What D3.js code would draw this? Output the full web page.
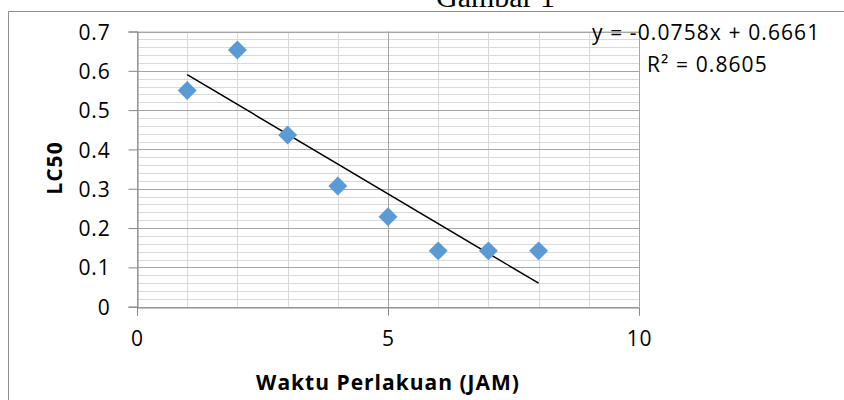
<!DOCTYPE html>
<html>
<head>
<meta charset="utf-8">
<script src="https://cdn.jsdelivr.net/npm/d3@7"></script>
<style>
  body { margin: 0; background: #fff; }
  svg text { font-family: "Open Sans", "Noto Sans", sans-serif; fill: #000; }
</style>
</head>
<body>
<div id="chart"></div>
<script>
// data
const hours = [1, 2, 3, 4, 5, 6, 7, 8];
const lc50 = [0.55, 0.653, 0.437, 0.307, 0.229, 0.142, 0.142, 0.142];
const trend = { slope: -0.0758, intercept: 0.6661 };
const xTicks = [0, 5, 10];
const yTicks = [0, 0.1, 0.2, 0.3, 0.4, 0.5, 0.6, 0.7];
const eqLabel = 'y = -0.0758x + 0.6661';
const r2Label = 'R² = 0.8605';

const width = 844, height = 400;

const svg = d3.select('#chart').append('svg')
  .attr('width', width)
  .attr('height', height);

// chart frame (only top & left visible)
svg.append('path')
  .attr('d', 'M8.5,' + height + 'V11.5H' + width)
  .attr('fill', 'none')
  .attr('stroke', '#8c8c8c')
  .attr('stroke-width', 1);

svg.append('text')
  .attr('x', 436)
  .attr('y', 7)
  .style('font-family', '"Liberation Serif", "Times New Roman", serif')
  .style('font-size', '30px')
  .text('Gambar 1');

let x = d3.scaleLinear().domain([0, 10]).range([137, 639]);
let y = d3.scaleLinear().domain([0, 0.7]).range([306.7, 31.5]);

const grid = svg.append('g');

// minor grid
grid.selectAll('.hminor')
  .data(d3.range(0, 0.701, 0.02))
  .enter().append('line')
  .attr('x1', x(0)).attr('x2', x(10))
  .attr('y1', d => Math.round(y(d)) + 0.5).attr('y2', d => Math.round(y(d)) + 0.5)
  .attr('stroke', '#d9d9d9').attr('stroke-width', 1);

grid.selectAll('.vminor')
  .data(d3.range(0, 10.01, 1))
  .enter().append('line')
  .attr('y1', y(0)).attr('y2', y(0.7))
  .attr('x1', d => Math.round(x(d)) + 0.5).attr('x2', d => Math.round(x(d)) + 0.5)
  .attr('stroke', '#d9d9d9').attr('stroke-width', 1);

// major grid
grid.selectAll('.hmajor')
  .data(yTicks)
  .enter().append('line')
  .attr('x1', x(0)).attr('x2', x(10))
  .attr('y1', d => Math.round(y(d)) + 0.5).attr('y2', d => Math.round(y(d)) + 0.5)
  .attr('stroke', '#a6a6a6').attr('stroke-width', 1);

grid.selectAll('.vmajor')
  .data(xTicks)
  .enter().append('line')
  .attr('y1', y(0)).attr('y2', y(0.7))
  .attr('x1', d => Math.round(x(d)) + 0.5).attr('x2', d => Math.round(x(d)) + 0.5)
  .attr('stroke', '#a6a6a6').attr('stroke-width', 1);

// axes
const yAxis = svg.append('g')
  .attr('transform', 'translate(' + (Math.round(x(0)) + 0.5) + ',0)')
  .call(d3.axisLeft(y).tickValues(yTicks).tickSize(9).tickPadding(18).tickFormat(d => d === 0 ? '0' : d3.format('.1f')(d)));

const xAxis = svg.append('g')
  .attr('transform', 'translate(0,' + (Math.round(y(0)) + 0.5) + ')')
  .call(d3.axisBottom(x).tickValues(xTicks).tickSize(8).tickPadding(12).tickFormat(d3.format('d')));

[yAxis, xAxis].forEach(a => {
  a.select('.domain').attr('stroke', '#868686');
  a.selectAll('.tick line').attr('stroke', '#868686');
  a.selectAll('.tick text')
    .style('font-family', '"Open Sans", sans-serif')
    .style('font-size', '21px')
    .style('letter-spacing', '0.8px')
    .attr('fill', '#000');
});
yAxis.selectAll('.tick text').attr('dy', '0.36em');
xAxis.selectAll('.tick text').attr('dy', '0.9em');

// trendline from first to last x
const x0 = d3.min(hours), x1 = d3.max(hours);
svg.append('line')
  .attr('x1', x(x0)).attr('y1', y(trend.slope * x0 + trend.intercept))
  .attr('x2', x(x1)).attr('y2', y(trend.slope * x1 + trend.intercept))
  .attr('stroke', '#000')
  .attr('stroke-width', 1.5);

// markers
const diamond = d3.symbol().type(d3.symbolSquare).size(180);
svg.append('g')
  .selectAll('path')
  .data(hours.map((h, i) => [h, lc50[i]]))
  .enter().append('path')
  .attr('d', diamond)
  .attr('transform', d => 'translate(' + x(d[0]) + ',' + y(d[1]) + ') rotate(45)')
  .attr('fill', '#5b9bd5');

// equation labels
svg.append('text')
  .attr('x', 592).attr('y', 40)
  .style('font-size', '21px')
  .style('letter-spacing', '1.1px')
  .text(eqLabel);

svg.append('text')
  .attr('x', 647).attr('y', 72)
  .style('font-size', '21px')
  .style('letter-spacing', '1.1px')
  .text(r2Label);

// axis titles
svg.append('text')
  .attr('transform', 'translate(62,168) rotate(-90)')
  .attr('text-anchor', 'middle')
  .style('font-size', '21px')
  .style('font-weight', 'bold')
  .style('letter-spacing', '1px')
  .text('LC50');

svg.append('text')
  .attr('x', 388).attr('y', 390)
  .attr('text-anchor', 'middle')
  .style('font-size', '21px')
  .style('font-weight', 'bold')
  .style('letter-spacing', '1px')
  .text('Waktu Perlakuan (JAM)');
</script>
</body>
</html>
